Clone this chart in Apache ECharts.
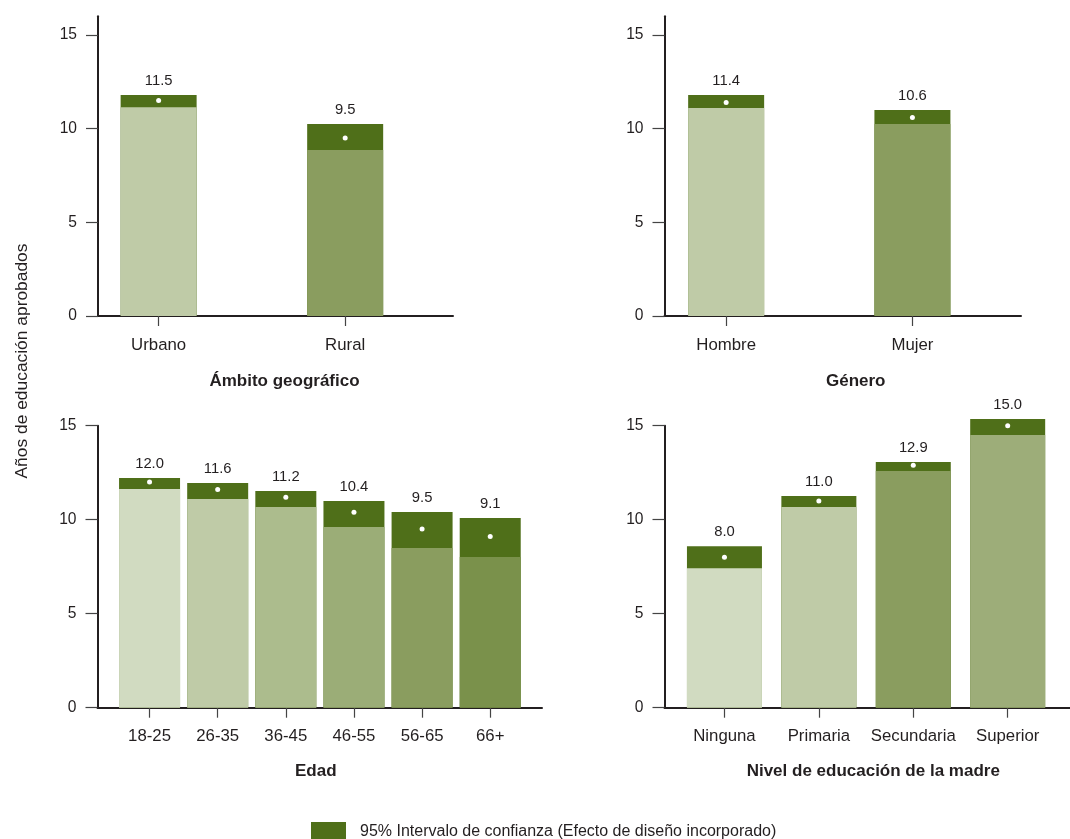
<!DOCTYPE html>
<html>
<head>
<meta charset="utf-8">
<script src="https://cdn.jsdelivr.net/npm/echarts@6/dist/echarts.min.js"></script>
<style>html,body{margin:0;padding:0;background:#fff}#c{width:1070px;height:839px}</style>
</head>
<body>
<div id="c"></div>
<script>
// ---- data ----
const yTitle = 'Años de educación aprobados';
const ciName = '95% Intervalo de confianza (Efecto de diseño incorporado)';
const yTicks = [0, 5, 10, 15];

const geoTitle = 'Ámbito geográfico';
const geoCats = ['Urbano', 'Rural'];
const geoMean = [11.5, 9.5];
const geoLow = [11.15, 8.86];
const geoHigh = [11.80, 10.25];

const genTitle = 'Género';
const genCats = ['Hombre', 'Mujer'];
const genMean = [11.4, 10.6];
const genLow = [11.10, 10.25];
const genHigh = [11.80, 11.00];

const ageTitle = 'Edad';
const ageCats = ['18-25', '26-35', '36-45', '46-55', '56-65', '66+'];
const ageMean = [12.0, 11.6, 11.2, 10.4, 9.5, 9.1];
const ageLow = [11.63, 11.10, 10.67, 9.61, 8.49, 8.01];
const ageHigh = [12.22, 11.95, 11.53, 10.99, 10.41, 10.09];

const eduTitle = 'Nivel de educación de la madre';
const eduCats = ['Ninguna', 'Primaria', 'Secundaria', 'Superior'];
const eduMean = [8.0, 11.0, 12.9, 15.0];
const eduLow = [7.42, 10.67, 12.59, 14.50];
const eduHigh = [8.59, 11.26, 13.07, 15.35];

// ---- styles ----
const FONT = "'Liberation Sans', Arial, sans-serif";
const TXT = '#231f20';
const CI = '#4f6f19';
const geoColors = ['#bfcba7', '#8a9d5f'];
const genColors = ['#bfcba7', '#8a9d5f'];
const ageColors = ['#d1dbc1', '#bfcba7', '#acbc8d', '#9bad77', '#8a9d5f', '#7a914b'];
const eduColors = ['#d1dbc1', '#bfcba7', '#8a9d5f', '#9dad79'];

const panels = [
  {title: geoTitle, cats: geoCats, mean: geoMean, low: geoLow, high: geoHigh, colors: geoColors,
   grid: {left: 98, top: 16.3, width: 355, height: 299.7}, xMin: 0.675, xMax: 2.578, yMax: 16, barW: 76, shift: 9, lm: 21, ng: 57},
  {title: genTitle, cats: genCats, mean: genMean, low: genLow, high: genHigh, colors: genColors,
   grid: {left: 664.5, top: 16.3, width: 356.5, height: 299.7}, xMin: 0.669, xMax: 2.583, yMax: 16, barW: 76, shift: 13, lm: 21, ng: 57},
  {title: ageTitle, cats: ageCats, mean: ageMean, low: ageLow, high: ageHigh, colors: ageColors,
   grid: {left: 97.5, top: 425.7, width: 444.5, height: 282}, xMin: 0.236, xMax: 6.76, yMax: 15, barW: 61, shift: -4, lm: 20, ng: 55},
  {title: eduTitle, cats: eduCats, mean: eduMean, low: eduLow, high: eduHigh, colors: eduColors,
   grid: {left: 664.5, top: 425.7, width: 405.5, height: 282}, xMin: 0.365, xMax: 4.66, yMax: 15, barW: 75, shift: 6, lm: 20, ng: 55}
];

const grids = [], xAxes = [], yAxes = [], series = [];
panels.forEach((p, i) => {
  const pos = p.cats.map((c, j) => j + 1);
  grids.push(Object.assign({containLabel: false}, p.grid));
  xAxes.push({
    gridIndex: i, type: 'value', min: p.xMin, max: p.xMax,
    axisLine: {show: true, onZero: false, lineStyle: {color: TXT, width: 2}},
    axisTick: {show: true, customValues: pos, length: 10, lineStyle: {color: '#444', width: 1.2}},
    axisLabel: {customValues: pos, formatter: v => p.cats[Math.round(v) - 1] || '', margin: p.lm,
      fontSize: 16.8, color: TXT, fontFamily: FONT},
    splitLine: {show: false},
    name: p.title, nameLocation: 'middle', nameGap: p.ng,
    nameTextStyle: {fontWeight: 'bold', fontSize: 17, color: TXT, fontFamily: FONT,
      padding: p.shift >= 0 ? [0, 0, 0, 2 * p.shift] : [0, -2 * p.shift, 0, 0]}
  });
  yAxes.push({
    gridIndex: i, type: 'value', min: 0, max: p.yMax, interval: 5,
    axisLine: {show: true, onZero: false, lineStyle: {color: TXT, width: 2}},
    axisTick: {show: true, customValues: yTicks, length: 12, lineStyle: {color: '#444', width: 1.2}},
    axisLabel: {customValues: yTicks, margin: 21, fontSize: 15.6, color: TXT, fontFamily: FONT},
    splitLine: {show: false}
  });
  series.push({
    type: 'bar', name: ciName, xAxisIndex: i, yAxisIndex: i, barWidth: p.barW, barGap: '-100%',
    clip: false, itemStyle: {color: CI},
    data: p.high.map((h, j) => [pos[j], h]),
    label: {show: true, position: 'top', distance: 7, fontSize: 14.8, color: TXT, fontFamily: FONT,
      formatter: q => p.mean[q.dataIndex].toFixed(1)},
    emphasis: {disabled: true}
  });
  series.push({
    type: 'bar', name: 'base' + i, xAxisIndex: i, yAxisIndex: i, barWidth: p.barW, barGap: '-100%',
    clip: false,
    data: p.low.map((l, j) => ({value: [pos[j], l], itemStyle: {color: p.colors[j]}})),
    emphasis: {disabled: true}
  });
  series.push({
    type: 'scatter', name: 'mean' + i, xAxisIndex: i, yAxisIndex: i, symbol: 'circle', symbolSize: 5,
    clip: false, z: 5, itemStyle: {color: '#ffffff', opacity: 1},
    data: p.mean.map((m, j) => [pos[j], m]),
    emphasis: {disabled: true}
  });
});

const chart = echarts.init(document.getElementById('c'), null, {renderer: 'canvas'});
chart.setOption({
  animation: false,
  backgroundColor: '#ffffff',
  grid: grids, xAxis: xAxes, yAxis: yAxes, series: series,
  legend: {
    data: [{name: ciName, icon: 'rect'}], left: 306, top: 817, itemWidth: 35, itemHeight: 19,
    selectedMode: false,
    textStyle: {fontSize: 16, color: TXT, fontFamily: FONT, padding: [0, 0, 0, 9]}
  },
  graphic: [{
    type: 'text', x: 22, y: 361, rotation: Math.PI / 2,
    style: {text: yTitle, fontSize: 17.4, fontFamily: FONT, fill: TXT, align: 'center', verticalAlign: 'middle'}
  }]
});
</script>
</body>
</html>
